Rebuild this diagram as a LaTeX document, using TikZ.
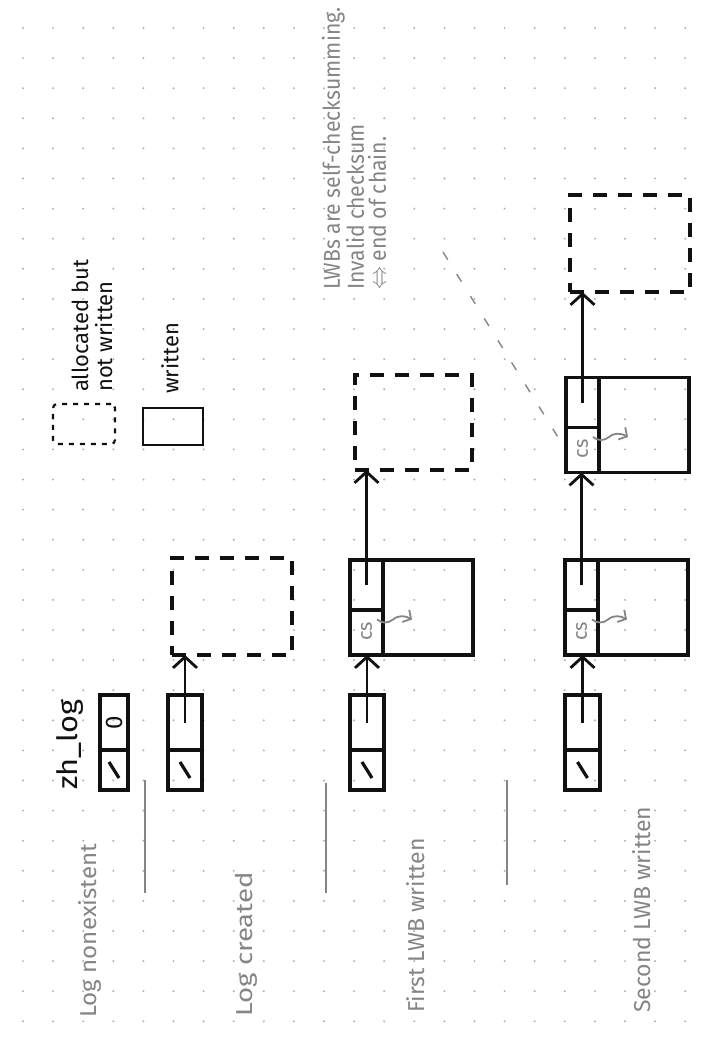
\documentclass[tikz,border=0pt]{standalone}
\usepackage{fontspec}
\setmainfont{Fira Sans}
\usepackage{tikz}
\usetikzlibrary{arrows.meta,positioning}
\definecolor{ink}{HTML}{111111}
\definecolor{pencil}{HTML}{858585}
\definecolor{dots}{HTML}{B0B0B0}

\begin{document}
\begin{tikzpicture}[x=1pt,y=-1pt,>={Straight Barb[length=11pt,width=24pt]},
  cell/.style={draw=ink,line width=3.2pt,inner sep=0pt,outer sep=0pt},
  dbox/.style={cell,dash pattern=on 14pt off 11pt,
    minimum width=120pt,minimum height=97pt},
  ptr/.style={->,ink,line width=2.8pt},
  sep/.style={pencil,line width=1.4pt},
  lbl/.style={rotate=90,anchor=west,pencil,inner sep=0pt,
    font=\fontsize{23}{24}\selectfont},
  tag/.style={rotate=90,anchor=west,ink,inner sep=0pt,align=left,
    font=\fontsize{22}{24}\selectfont},
  cstxt/.style={rotate=90,pencil,inner sep=0pt,font=\fontsize{20}{20}\selectfont},
  csarr/.style={-{Straight Barb[length=6pt,width=14pt]},pencil,line width=1.8pt},
  notelink/.style={pencil,line width=1.4pt,dash pattern=on 9pt off 17pt}]
\useasboundingbox (0,0) rectangle (707,1044);
\fill[white] (0,0) rectangle (707,1044);

% dotted paper
\foreach \i in {0,...,22}
  \foreach \j in {0,...,33}
    \fill[dots] ({23+30.1*\i},{28+30.1*\j}) circle (1.1pt);

% legend
\node[cell,line width=2.2pt,dash pattern=on 5pt off 6pt,rounded corners=4pt,
  minimum width=62pt,minimum height=40pt] (legdash) at (84,424) {};
\node[tag] (legdashtxt) at (92,392) {allocated but\\not written};
\node[cell,line width=2.4pt,minimum width=60pt,minimum height=37pt]
  (legfull) at (173,426.5) {};
\node[tag] (legfulltxt) at (170,394) {written};

% log headers
\foreach \n/\x/\w in {1/114/28,2/185/34,3/367/34,4/582.5/35}{
  \node[cell,minimum width=\w pt,minimum height=55pt] (h\n-up) at (\x,722.5) {};
  \node[cell,minimum width=\w pt,minimum height=40pt,below=0pt of h\n-up] (h\n-lo) {};
  \draw[cell] ([shift={(-5,-8)}]h\n-lo.center) -- ([shift={(5,8)}]h\n-lo.center);
}
\node[tag,anchor=center,font=\fontsize{24}{24}\selectfont] (zero) at (h1-up.center) {0};
\node[tag,xscale=1.1,font=\fontsize{28}{28}\selectfont] (zhlog) at (70,790) {zh\_log};

% written LWBs
\foreach \n/\x/\y in {a/366.5/607.5,b/581.5/607.5,c/582.5/425}{
  \node[cell,minimum width=33pt,minimum height=50pt] (\n-hd) at (\x,\y-22.5) {};
  \node[cell,minimum width=33pt,minimum height=45pt,below=0pt of \n-hd] (\n-cs) {};
  \node[cell,minimum width=90pt,minimum height=95pt,anchor=north west]
    (\n-bd) at (\n-hd.north east) {};
  \node[cstxt] (\n-cslbl) at ([shift={(0,-1)}]\n-cs.center) {cs};
  \draw[csarr] ([shift={(-6,-13)}]\n-cs.east) to[out=-40,in=220] ++(16,0)
    to[out=40,in=150] ++(19,0);
}

% allocated LWBs
\node[dbox] (d2) at (232,606.5) {};
\node[dbox,minimum width=117pt,minimum height=95pt] (d3) at (413.5,422.5) {};
\node[dbox] (d4) at (630,243.5) {};

% chain pointers
\draw[ptr] (h2-up.center) -- (h2-up.center |- d2.south);
\draw[ptr] (h3-up.center) -- (h3-up.center |- a-cs.south);
\draw[ptr] (a-hd.center) -- (a-hd.center |- d3.south);
\draw[ptr] (h4-up.center) -- (h4-up.center |- b-cs.south);
\draw[ptr] (b-hd.center) -- (b-hd.center |- c-cs.south);
\draw[ptr] (c-hd.center) -- (c-hd.center |- d4.south);

% stages
\node[lbl,xscale=1.05] (st1) at (90,1018) {Log nonexistent};
\node[lbl,xscale=1.2] (st2) at (246,1017) {Log created};
\node[lbl] (st3) at (416,1013) {First LWB written};
\node[lbl] (st4) at (642,1013) {Second LWB written};
\draw[sep] (145,780) -- (145,893);
\draw[sep] (326,783) -- (326,893);
\draw[sep] (507,780) -- (507,885);

% note
\node[lbl,align=left,xscale=0.92,font=\fontsize{23}{22}\selectfont] (note) at (354,290)
  {LWBs are self-checksumming.\\Invalid checksum\\$\Leftrightarrow$ end of chain.};
\coordinate (notetail) at (443,252);
\draw[notelink] (notetail) -- (c-cs.west);
\end{tikzpicture}
\end{document}
